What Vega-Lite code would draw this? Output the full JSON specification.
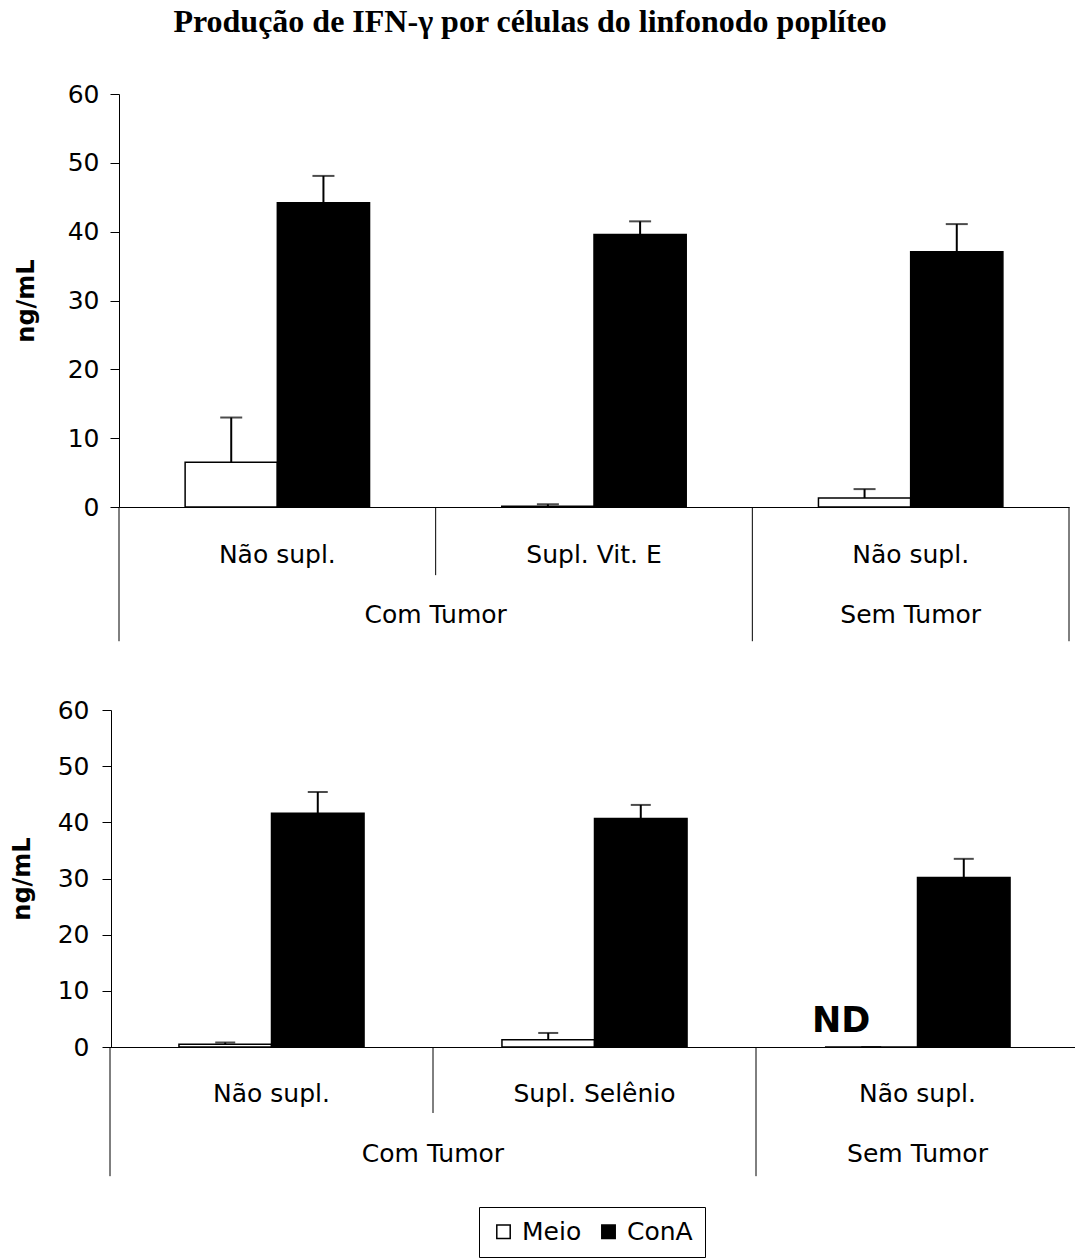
{
  "$schema": "https://vega.github.io/schema/vega-lite/v6.json",
  "padding": {"left": 10, "top": 6, "right": 0, "bottom": 0},
  "background": "white",
  "title": {"text": "Produção de IFN-γ por células do linfonodo poplíteo", "font": "Liberation Serif", "fontSize": 32, "fontWeight": "bold", "color": "black", "anchor": "middle", "offset": 43, "dx": -19},
  "datasets": {
    "top": [
      {"key": "1|Não supl.", "cond": "Meio", "value": 6.5, "upper": 13.0, "note": ""},
      {"key": "1|Não supl.", "cond": "ConA", "value": 44.2, "upper": 48.1, "note": ""},
      {"key": "2|Supl. Vit. E", "cond": "Meio", "value": 0.1, "upper": 0.4, "note": ""},
      {"key": "2|Supl. Vit. E", "cond": "ConA", "value": 39.6, "upper": 41.5, "note": ""},
      {"key": "3|Não supl.", "cond": "Meio", "value": 1.3, "upper": 2.6, "note": ""},
      {"key": "3|Não supl.", "cond": "ConA", "value": 37.1, "upper": 41.1, "note": ""}
    ],
    "bottom": [
      {"key": "1|Não supl.", "cond": "Meio", "value": 0.5, "upper": 0.8, "note": ""},
      {"key": "1|Não supl.", "cond": "ConA", "value": 41.6, "upper": 45.4, "note": ""},
      {"key": "2|Supl. Selênio", "cond": "Meio", "value": 1.3, "upper": 2.5, "note": ""},
      {"key": "2|Supl. Selênio", "cond": "ConA", "value": 40.7, "upper": 43.1, "note": ""},
      {"key": "3|Não supl.", "cond": "Meio", "value": 0, "upper": 0, "note": "ND"},
      {"key": "3|Não supl.", "cond": "ConA", "value": 30.2, "upper": 33.5, "note": ""}
    ]
  },
  "spacing": 56,
  "resolve": {"scale": {"xOffset": "independent"}},
  "vconcat": [
    {
      "width": 950,
      "height": 413,
      "data": {"name": "top"},
      "layer": [
        {
          "mark": {"type": "bar", "stroke": "black", "strokeWidth": 1.5},
          "encoding": {
            "x": {"field": "key", "type": "nominal", "scale": {"paddingInner": 0, "paddingOuter": 0},
              "axis": {"title": null, "labelExpr": "split(datum.label,'|')[1]", "ticks": false, "domainColor": "black", "domainWidth": 1, "labelFont": "DejaVu Sans", "labelFontSize": 25, "labelColor": "black", "labelPadding": 47, "labelBaseline": "middle", "labelAngle": 0, "labelLimit": 400}},
            "xOffset": {"field": "cond", "type": "nominal", "scale": {"domain": ["Meio", "ConA"], "paddingInner": 0, "paddingOuter": 0.717}},
            "y": {"field": "value", "type": "quantitative", "scale": {"domain": [0, 60], "nice": false},
              "axis": {"title": "ng/mL", "values": [0, 10, 20, 30, 40, 50, 60], "grid": false, "tickSize": 9, "tickColor": "black", "domainColor": "black", "labelFont": "DejaVu Sans", "labelFontSize": 25, "labelColor": "black", "labelPadding": 11, "labelFlush": false, "titleFont": "DejaVu Sans", "titleFontSize": 24, "titleFontWeight": "bold", "titleColor": "black", "titlePadding": 29}},
            "fill": {"field": "cond", "type": "nominal", "scale": {"domain": ["Meio", "ConA"], "range": ["white", "black"]},
              "legend": {"orient": "none", "legendX": 360, "legendY": 1113, "direction": "horizontal", "title": null}}
          }
        },
        {
          "mark": {"type": "rule", "color": "black", "strokeWidth": 2},
          "encoding": {
            "x": {"field": "key", "type": "nominal"},
            "xOffset": {"field": "cond", "type": "nominal"},
            "y": {"field": "value", "type": "quantitative"},
            "y2": {"field": "upper"}
          }
        },
        {
          "mark": {"type": "tick", "color": "black", "size": 22, "thickness": 2, "orient": "horizontal"},
          "encoding": {
            "x": {"field": "key", "type": "nominal"},
            "xOffset": {"field": "cond", "type": "nominal"},
            "y": {"field": "upper", "type": "quantitative"}
          }
        },
        {
          "data": {"values": [{"key": "1|Não supl."}, {"key": "3|Não supl."}]},
          "mark": {"type": "rule", "color": "black", "strokeWidth": 1},
          "encoding": {
            "x": {"field": "key", "type": "nominal", "bandPosition": 0},
            "y": {"datum": 0},
            "y2": {"datum": -19.5}
          }
        },
        {
          "data": {"values": [{"key": "3|Não supl."}]},
          "mark": {"type": "rule", "color": "black", "strokeWidth": 1},
          "encoding": {
            "x": {"field": "key", "type": "nominal", "bandPosition": 1},
            "y": {"datum": 0},
            "y2": {"datum": -19.5}
          }
        },
        {
          "data": {"values": [{"key": "2|Supl. Vit. E"}]},
          "mark": {"type": "rule", "color": "black", "strokeWidth": 1},
          "encoding": {
            "x": {"field": "key", "type": "nominal", "bandPosition": 0},
            "y": {"datum": 0},
            "y2": {"datum": -9.9}
          }
        },
        {
          "data": {"values": [{"key": "2|Supl. Vit. E", "label": "Com Tumor"}]},
          "mark": {"type": "text", "font": "DejaVu Sans", "fontSize": 25, "color": "black", "baseline": "middle"},
          "encoding": {
            "x": {"field": "key", "type": "nominal", "bandPosition": 0},
            "y": {"datum": -15.7},
            "text": {"field": "label"}
          }
        },
        {
          "data": {"values": [{"key": "3|Não supl.", "label": "Sem Tumor"}]},
          "mark": {"type": "text", "font": "DejaVu Sans", "fontSize": 25, "color": "black", "baseline": "middle"},
          "encoding": {
            "x": {"field": "key", "type": "nominal", "bandPosition": 0.5},
            "y": {"datum": -15.7},
            "text": {"field": "label"}
          }
        }
      ]
    },
    {
      "width": 967,
      "height": 337,
      "data": {"name": "bottom"},
      "layer": [
        {
          "mark": {"type": "bar", "stroke": "black", "strokeWidth": 1.5},
          "encoding": {
            "x": {"field": "key", "type": "nominal", "scale": {"paddingInner": 0, "paddingOuter": 0, "range": [-9, 960]},
              "axis": {"title": null, "labelExpr": "split(datum.label,'|')[1]", "ticks": false, "domainColor": "black", "domainWidth": 1, "labelFont": "DejaVu Sans", "labelFontSize": 25, "labelColor": "black", "labelPadding": 46, "labelBaseline": "middle", "labelAngle": 0, "labelLimit": 400}},
            "xOffset": {"field": "cond", "type": "nominal", "scale": {"domain": ["Meio", "ConA"], "paddingInner": 0, "paddingOuter": 0.745}},
            "y": {"field": "value", "type": "quantitative", "scale": {"domain": [0, 60], "nice": false},
              "axis": {"title": "ng/mL", "offset": 8, "values": [0, 10, 20, 30, 40, 50, 60], "grid": false, "tickSize": 9, "tickColor": "black", "domainColor": "black", "labelFont": "DejaVu Sans", "labelFontSize": 25, "labelColor": "black", "labelPadding": 13, "labelFlush": false, "titleFont": "DejaVu Sans", "titleFontSize": 24, "titleFontWeight": "bold", "titleColor": "black", "titlePadding": 23}},
            "fill": {"field": "cond", "type": "nominal", "scale": {"domain": ["Meio", "ConA"], "range": ["white", "black"]},
              "legend": {"orient": "none", "legendX": 360, "legendY": 1113, "direction": "horizontal", "title": null}}
          }
        },
        {
          "mark": {"type": "rule", "color": "black", "strokeWidth": 2},
          "encoding": {
            "x": {"field": "key", "type": "nominal"},
            "xOffset": {"field": "cond", "type": "nominal"},
            "y": {"field": "value", "type": "quantitative"},
            "y2": {"field": "upper"}
          }
        },
        {
          "mark": {"type": "tick", "color": "black", "size": 20, "thickness": 2, "orient": "horizontal"},
          "encoding": {
            "x": {"field": "key", "type": "nominal"},
            "xOffset": {"field": "cond", "type": "nominal"},
            "y": {"field": "upper", "type": "quantitative"}
          }
        },
        {
          "transform": [{"filter": "datum.note != ''"}],
          "mark": {"type": "text", "font": "DejaVu Sans", "fontSize": 35, "fontWeight": "bold", "color": "black", "baseline": "alphabetic", "dx": -30, "dy": -15},
          "encoding": {
            "x": {"field": "key", "type": "nominal"},
            "xOffset": {"field": "cond", "type": "nominal"},
            "y": {"field": "value", "type": "quantitative"},
            "text": {"field": "note"}
          }
        },
        {
          "data": {"values": [{"key": "1|Não supl."}, {"key": "3|Não supl."}]},
          "mark": {"type": "rule", "color": "black", "strokeWidth": 1},
          "encoding": {
            "x": {"field": "key", "type": "nominal", "bandPosition": 0},
            "y": {"datum": 0},
            "y2": {"datum": -23}
          }
        },
        {
          "data": {"values": [{"key": "3|Não supl."}]},
          "mark": {"type": "rule", "color": "black", "strokeWidth": 1},
          "encoding": {
            "x": {"field": "key", "type": "nominal", "bandPosition": 1},
            "y": {"datum": 0},
            "y2": {"datum": -23}
          }
        },
        {
          "data": {"values": [{"key": "2|Supl. Selênio"}]},
          "mark": {"type": "rule", "color": "black", "strokeWidth": 1},
          "encoding": {
            "x": {"field": "key", "type": "nominal", "bandPosition": 0},
            "y": {"datum": 0},
            "y2": {"datum": -11.75}
          }
        },
        {
          "data": {"values": [{"key": "2|Supl. Selênio", "label": "Com Tumor"}]},
          "mark": {"type": "text", "font": "DejaVu Sans", "fontSize": 25, "color": "black", "baseline": "middle"},
          "encoding": {
            "x": {"field": "key", "type": "nominal", "bandPosition": 0},
            "y": {"datum": -19},
            "text": {"field": "label"}
          }
        },
        {
          "data": {"values": [{"key": "3|Não supl.", "label": "Sem Tumor"}]},
          "mark": {"type": "text", "font": "DejaVu Sans", "fontSize": 25, "color": "black", "baseline": "middle"},
          "encoding": {
            "x": {"field": "key", "type": "nominal", "bandPosition": 0.5},
            "y": {"datum": -19},
            "text": {"field": "label"}
          }
        }
      ]
    }
  ],
  "config": {
    "view": {"stroke": null},
    "legend": {"strokeColor": "black", "padding": 12, "labelFont": "DejaVu Sans", "labelFontSize": 25, "labelColor": "black", "symbolType": "square", "symbolSize": 180, "symbolStrokeColor": "black", "symbolStrokeWidth": 1.5, "columnPadding": 14, "labelOffset": 6, "fillColor": "white"}
  }
}
